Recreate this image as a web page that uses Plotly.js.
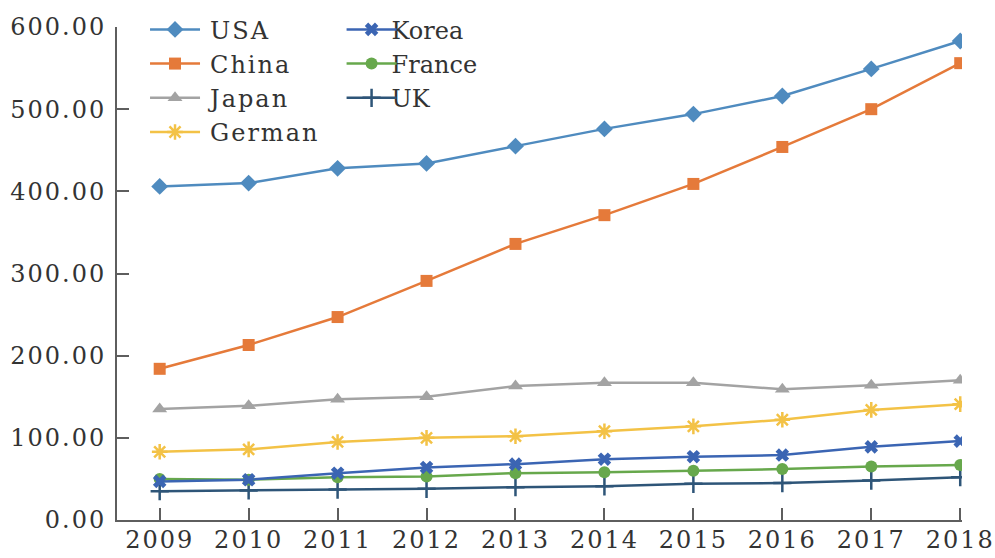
<!DOCTYPE html>
<html>
<head>
<meta charset="utf-8">
<script src="https://cdn.plot.ly/plotly-3.0.1.min.js"></script>
<style>
html,body{margin:0;padding:0;background:#fff;}
#chart{width:995px;height:558px;}
</style>
</head>
<body>
<div id="chart"></div>
<script>
const years = [2009, 2010, 2011, 2012, 2013, 2014, 2015, 2016, 2017, 2018];
const usa    = [406, 410, 428, 434, 455, 476, 494, 516, 549, 583];
const china  = [184, 213, 247, 291, 336, 371, 409, 454, 500, 556];
const japan  = [135, 139, 147, 150, 163, 167, 167, 159, 164, 170];
const german = [83, 86, 95, 100, 102, 108, 114, 122, 134, 141];
const korea  = [47, 49, 57, 64, 68, 74, 77, 79, 89, 96];
const france = [50, 49, 52, 53, 57, 58, 60, 62, 65, 67];
const uk     = [35, 36, 37, 38, 40, 41, 44, 45, 48, 52];
const yTicks = [0, 100, 200, 300, 400, 500, 600];
const yTickText = ['0.00', '100.00', '200.00', '300.00', '400.00', '500.00', '600.00'];

function tr(name, y, color, symbol, size, legend, rank, extra) {
  const m = {symbol: symbol, size: size, color: color, line: {color: color, width: 0}};
  if (extra) Object.assign(m.line, extra);
  return {
    x: years, y: y, name: name, type: 'scatter', mode: 'lines+markers',
    line: {color: color, width: 2.5},
    marker: m,
    legend: legend,
    legendrank: rank
  };
}

const data = [
  tr('UK', uk, '#2e5578', 'cross-thin-open', 13, 'legend2', 3, {width: 2.5}),
  tr('France', france, '#67a84c', 'circle', 12, 'legend2', 2),
  tr('Korea', korea, '#3b65b3', 'x', 12, 'legend2', 1),
  tr('German', german, '#f3c246', 'asterisk-open', 13, 'legend', 4, {width: 2.5}),
  tr('Japan', japan, '#a3a3a3', 'triangle-up', 13, 'legend', 3),
  tr('China', china, '#e57a3a', 'square', 12, 'legend', 2),
  tr('USA', usa, '#4f8bbf', 'diamond', 13, 'legend', 1)
];

const fontFam = 'DejaVu Serif, Liberation Serif, Times New Roman, serif';
const legFont = {family: fontFam, size: 24, color: '#333'};

const layout = {
  width: 995, height: 558,
  margin: {l: 117, r: 33, t: 27, b: 38, autoexpand: false},
  paper_bgcolor: '#fff', plot_bgcolor: '#fff',
  font: {family: fontFam, size: 24, color: '#333'},
  showlegend: true,
  legend: {
    x: 0.045, y: 1.04, xanchor: 'left', yanchor: 'top',
    bgcolor: 'rgba(0,0,0,0)', font: legFont, tracegroupgap: 0,
    traceorder: 'normal'
  },
  legend2: {
    x: 0.2776, y: 1.04, xanchor: 'left', yanchor: 'top',
    bgcolor: 'rgba(0,0,0,0)', font: legFont, tracegroupgap: 0,
    traceorder: 'normal'
  },
  xaxis: {
    range: [2008.52, 2018.02],
    tickvals: years, ticktext: years.map(String),
    showgrid: false, zeroline: false,
    showline: true, linecolor: '#5e5e5e', linewidth: 2,
    ticks: 'inside', ticklen: 12, tickwidth: 2, tickcolor: '#5e5e5e',
    tickfont: {family: fontFam, size: 24, color: '#333'},
    ticklabelstandoff: -3
  },
  yaxis: {
    range: [0, 600],
    tickvals: yTicks, ticktext: yTickText,
    showgrid: false, zeroline: false,
    showline: true, linecolor: '#5e5e5e', linewidth: 2,
    ticks: 'inside', ticklen: 12, tickwidth: 2, tickcolor: '#5e5e5e',
    tickfont: {family: fontFam, size: 24, color: '#333'},
    ticklabelstandoff: 4
  }
};

function tweak(gd) {
  gd.querySelectorAll('.xtick text, .ytick text').forEach(function (t) { t.style.letterSpacing = '2px'; });
  gd.querySelectorAll('g.traces').forEach(function (g) {
    g.querySelectorAll('g.legendlines path').forEach(function (l) { l.setAttribute('d', 'M-5,0h50'); });
    const tx = g.querySelector('text.legendtext');
    if (tx) { tx.setAttribute('x', 55); tx.style.letterSpacing = '2px'; }
  });
  gd.querySelectorAll('.scrollbox').forEach(function (s) { s.removeAttribute('clip-path'); });
}

Plotly.newPlot('chart', data, layout, {displayModeBar: false, staticPlot: true}).then(function (gd) {
  tweak(gd);
  setTimeout(function () { tweak(gd); }, 0);
  setTimeout(function () { tweak(gd); }, 50);
  setTimeout(function () { tweak(gd); }, 300);
});
</script>
</body>
</html>
